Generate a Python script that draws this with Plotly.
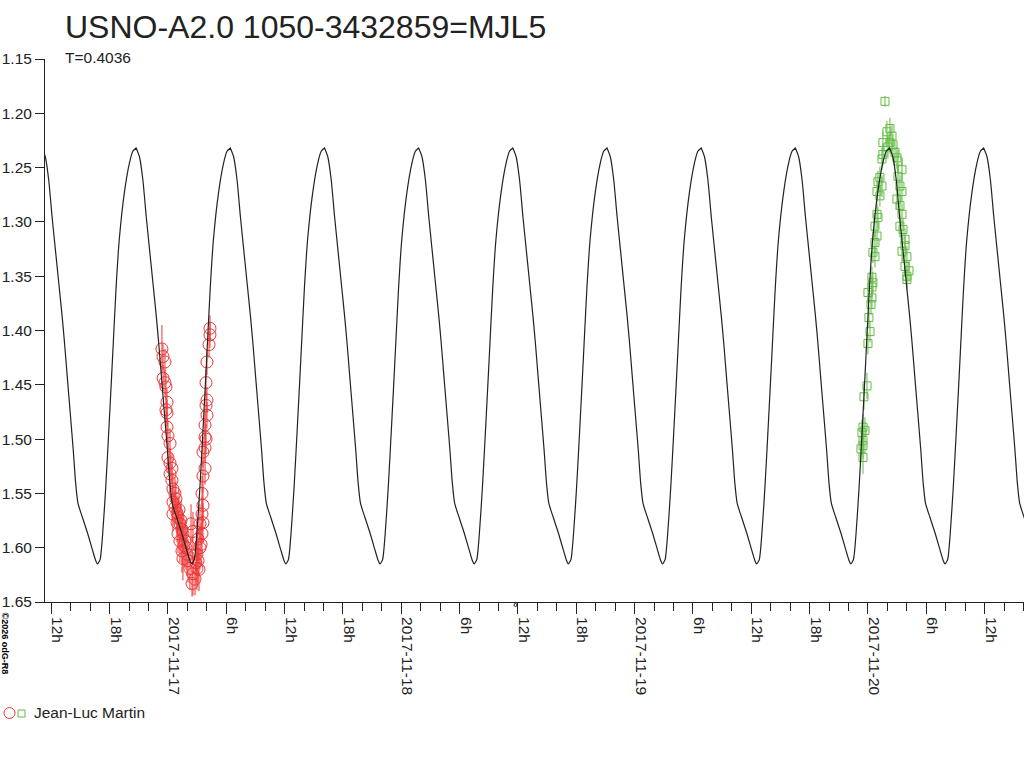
import numpy as np
import pandas as pd
import plotly.graph_objects as go

# period (days) and one cycle of the fitted light curve, phase 0 = maximum
T = 0.4036
epoch = pd.Timestamp("2017-11-20 02:13")
cycle_phase = [0.0, 0.035, 0.071, 0.107, 0.143, 0.178, 0.214, 0.239, 0.268, 0.303,
               0.332, 0.357, 0.382, 0.429, 0.482, 0.536, 0.571, 0.589, 0.617, 0.643,
               0.678, 0.714, 0.750, 0.786, 0.821, 0.875, 0.928, 0.965, 1.0]
cycle_mag = [1.232, 1.240, 1.261, 1.295, 1.326, 1.356, 1.387, 1.411, 1.442, 1.479,
             1.510, 1.540, 1.559, 1.572, 1.586, 1.602, 1.612, 1.615, 1.611, 1.589,
             1.543, 1.485, 1.424, 1.362, 1.316, 1.273, 1.246, 1.235, 1.232]
cycles = range(-11, 3)

# session 1 (red circles): hours after 2017-11-17 00:00
red_base = pd.Timestamp("2017-11-17 00:00")
red_hours = [-0.62, -0.51, -0.31, -0.50, -0.31, -0.21, -0.10, -0.21, -0.10, -0.10,
             0.00, 0.21, 0.00, 0.21, 0.41, 0.21, 0.41, 0.51, 0.72, 0.51,
             0.72, 0.93, 0.51, 1.03, 0.93, 1.23, 1.44, 1.03, 1.54, 1.23,
             1.75, 1.44, 1.95, 1.54, 2.26, 2.57, 2.78, 2.47, 2.98, 3.09,
             2.98, 3.29, 3.09, 3.50, 3.29, 3.60, 3.50, 3.60, 3.50, 3.60,
             3.81, 3.60, 3.81, 3.91, 3.81, 3.81, 4.01, 3.91, 4.01, 3.91,
             4.01, 4.22, 4.32, 4.32, 0.82, 1.13, 1.34, 1.65, 1.85, 2.06,
             3.19, 3.40, 2.88, 2.37, 2.57]
red_mag = [1.417, 1.424, 1.429, 1.444, 1.448, 1.452, 1.466, 1.473, 1.476, 1.489,
           1.497, 1.504, 1.517, 1.522, 1.527, 1.532, 1.538, 1.546, 1.550, 1.558,
           1.563, 1.568, 1.569, 1.572, 1.577, 1.578, 1.583, 1.587, 1.587, 1.594,
           1.594, 1.603, 1.606, 1.610, 1.619, 1.624, 1.629, 1.633, 1.619, 1.612,
           1.606, 1.600, 1.592, 1.587, 1.578, 1.577, 1.569, 1.561, 1.550, 1.534,
           1.527, 1.512, 1.508, 1.500, 1.498, 1.487, 1.478, 1.469, 1.464, 1.448,
           1.429, 1.413, 1.404, 1.398, 1.555, 1.565, 1.575, 1.598, 1.600, 1.612,
           1.620, 1.597, 1.614, 1.578, 1.585]
red_err = [0.022, 0.012, 0.012, 0.012, 0.012, 0.012, 0.012, 0.012, 0.012, 0.014,
           0.014, 0.014, 0.014, 0.014, 0.014, 0.015, 0.015, 0.015, 0.015, 0.016,
           0.016, 0.016, 0.016, 0.018, 0.018, 0.018, 0.018, 0.018, 0.018, 0.02,
           0.02, 0.02, 0.02, 0.02, 0.02, 0.02, 0.015, 0.012, 0.02, 0.02,
           0.02, 0.02, 0.02, 0.018, 0.018, 0.018, 0.016, 0.016, 0.016, 0.015,
           0.015, 0.014, 0.014, 0.014, 0.014, 0.012, 0.012, 0.012, 0.012, 0.012,
           0.012, 0.012, 0.012, 0.012, 0.016, 0.018, 0.018, 0.02, 0.02, 0.02,
           0.02, 0.02, 0.02, 0.018, 0.018]

# session 2 (green squares): hours after 2017-11-20 00:00
green_base = pd.Timestamp("2017-11-20 00:00")
green_hours = [1.75, 2.26, 1.95, 2.47, 1.54, 2.26, 2.57, 2.06, 2.78, 1.54,
               2.98, 1.44, 3.09, 3.50, 1.23, 3.09, 1.03, 3.29, 1.44, 0.93,
               3.50, 1.23, 2.98, 3.29, 0.93, 3.50, 1.03, 3.29, 3.60, 0.72,
               0.93, 3.81, 3.81, 0.72, 3.50, 0.51, 4.01, 0.72, 3.81, 4.01,
               0.41, 0.51, 0.41, 0.00, 0.41, 0.31, 0.10, 0.21, 0.00, -0.10,
               -0.41, -0.51, -0.62, -0.31, -0.51, -0.72, -0.51, -0.51, 4.01, 4.22]
green_mag = [1.189, 1.214, 1.217, 1.221, 1.227, 1.227, 1.229, 1.231, 1.236, 1.238,
             1.241, 1.242, 1.244, 1.252, 1.259, 1.258, 1.263, 1.267, 1.267, 1.272,
             1.272, 1.276, 1.279, 1.285, 1.293, 1.293, 1.296, 1.304, 1.307, 1.304,
             1.313, 1.316, 1.322, 1.319, 1.327, 1.328, 1.332, 1.332, 1.341, 1.350,
             1.351, 1.356, 1.360, 1.365, 1.370, 1.376, 1.388, 1.401, 1.412, 1.451,
             1.461, 1.489, 1.494, 1.492, 1.501, 1.509, 1.506, 1.517, 1.353, 1.345]
green_err = [0.005, 0.01, 0.01, 0.01, 0.01, 0.01, 0.01, 0.01, 0.01, 0.01,
             0.01, 0.01, 0.01, 0.01, 0.01, 0.01, 0.01, 0.01, 0.01, 0.01,
             0.01, 0.01, 0.01, 0.01, 0.01, 0.01, 0.01, 0.01, 0.01, 0.01,
             0.01, 0.01, 0.01, 0.01, 0.01, 0.01, 0.01, 0.01, 0.01, 0.01,
             0.01, 0.01, 0.01, 0.01, 0.01, 0.01, 0.01, 0.01, 0.01, 0.012,
             0.012, 0.012, 0.012, 0.012, 0.012, 0.012, 0.012, 0.015, 0.01, 0.01]

tick_vals = pd.date_range("2017-11-16 12:00", "2017-11-20 12:00", freq="6h")
tick_text = ["12h", "18h", "2017-11-17", "6h", "12h", "18h", "2017-11-18", "6h",
             "12h", "18h", "2017-11-19", "6h", "12h", "18h", "2017-11-20", "6h", "12h"]

RED = "#ee3535"
GREEN = "#62bb45"
INK = "#222222"
FONT = "Liberation Sans, Arial, sans-serif"

model_t = [epoch + pd.to_timedelta((n + p) * T, unit="D") for n in cycles for p in cycle_phase]
model_m = [m for n in cycles for m in cycle_mag]
red_t = red_base + pd.to_timedelta(red_hours, unit="h")
green_t = green_base + pd.to_timedelta(green_hours, unit="h")

fig = go.Figure()
fig.add_trace(go.Scatter(x=red_t, y=red_mag, mode="markers",
                         marker=dict(symbol="circle-open", size=12, color=RED, line=dict(width=1)),
                         error_y=dict(type="data", array=red_err, color=RED, thickness=1, width=0)))
fig.add_trace(go.Scatter(x=green_t, y=green_mag, mode="markers",
                         marker=dict(symbol="square-open", size=8, color=GREEN, line=dict(width=1)),
                         error_y=dict(type="data", array=green_err, color=GREEN, thickness=1, width=0)))
fig.add_trace(go.Scatter(x=model_t, y=model_m, mode="lines",
                         line=dict(color=INK, width=1.2, shape="spline", smoothing=0.6)))

L, R, TOP = 45, 0, 59
W, H = 1024 - L - R, 543
B = 768 - TOP - H

# pixel helpers for decorations outside the plot area
def px(x):
    return (x - L) / W
def py(y):
    return (TOP + H - y) / H

fig.add_annotation(text="USNO-A2.0 1050-3432859=MJL5", x=px(63), y=py(27), xref="paper", yref="paper",
                   xanchor="left", yanchor="middle", showarrow=False, font=dict(size=32, color=INK))
fig.add_annotation(text="T=0.4036", x=px(63), y=py(57), xref="paper", yref="paper",
                   xanchor="left", yanchor="middle", showarrow=False, font=dict(size=15.5, color=INK))
fig.add_annotation(text="Jean-Luc Martin", x=px(32), y=py(712), xref="paper", yref="paper",
                   xanchor="left", yanchor="middle", showarrow=False, font=dict(size=15.5, color=INK))
fig.add_annotation(text="<b>©2026 odG-R8</b>", x=px(4.5), y=py(643), xref="paper", yref="paper",
                   xanchor="center", yanchor="middle", textangle=90, showarrow=False,
                   font=dict(size=9, color="#000000"))

fig.add_shape(type="circle", xref="paper", yref="paper", x0=px(4), x1=px(15), y0=py(718.5), y1=py(707.5),
              line=dict(color=RED, width=1))
fig.add_shape(type="rect", xref="paper", yref="paper", x0=px(18), x1=px(25), y0=py(717), y1=py(710),
              line=dict(color=GREEN, width=1))
fig.add_shape(type="circle", xref="paper", yref="paper", x0=px(514), x1=px(517), y0=py(606.5), y1=py(603.5),
              line=dict(color=INK, width=1))

fig.update_xaxes(type="date", range=["2017-11-16 11:21", "2017-11-20 16:03"],
                 tickmode="array", tickvals=tick_vals, ticktext=tick_text, tickangle=90,
                 ticks="outside", ticklen=11, tickcolor=INK, ticklabelshift=6,
                 minor=dict(dtick=2 * 3600 * 1000, tick0="2017-11-16 00:00", ticks="outside",
                            ticklen=8, tickcolor=INK, showgrid=False),
                 showline=True, linecolor=INK, linewidth=1, showgrid=False, zeroline=False,
                 tickfont=dict(size=15.5, color=INK), automargin=False)
fig.update_yaxes(range=[1.65, 1.15], tickmode="linear", tick0=1.15, dtick=0.05, tickformat=".2f",
                 ticks="outside", ticklen=9, tickcolor=INK,
                 showline=True, linecolor=INK, linewidth=1, showgrid=False, zeroline=False,
                 tickfont=dict(size=15.5, color=INK), automargin=False)
fig.update_layout(width=1024, height=768, showlegend=False,
                  margin=dict(l=L, r=R, t=TOP, b=B),
                  paper_bgcolor="white", plot_bgcolor="white",
                  font=dict(family=FONT, color=INK))

# drop the browser's default 8px body margin so the figure sits in the window corner
fig.write_html("out.html", config={"displayModeBar": False},
               post_script="document.body.style.margin = '0px';")
